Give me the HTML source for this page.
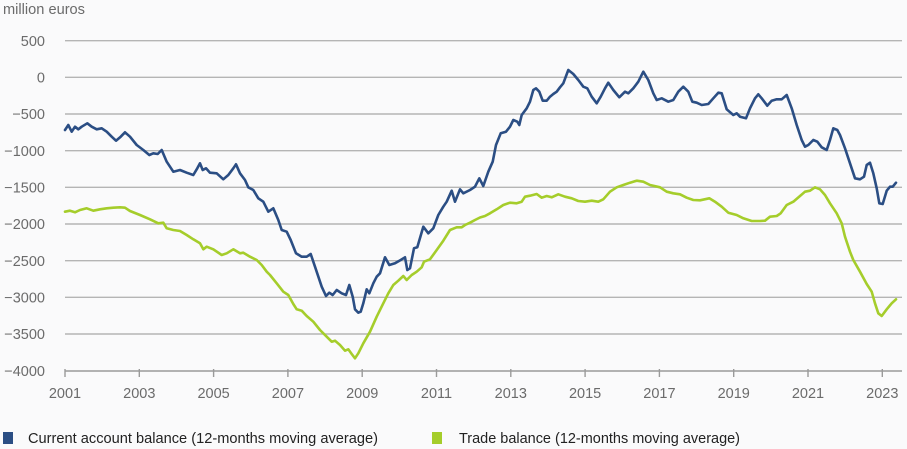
<!DOCTYPE html>
<html>
<head>
<meta charset="utf-8">
<style>
html,body{margin:0;padding:0;background:#fafafb;}
svg{display:block;}
</style>
</head>
<body>
<svg width="907" height="449" viewBox="0 0 907 449" xmlns="http://www.w3.org/2000/svg" font-family="Liberation Sans, Arial, sans-serif">
<rect width="907" height="449" fill="#fafafb"/>
<text x="3" y="14" font-size="14.5" fill="#6b6b6b" textLength="82" lengthAdjust="spacingAndGlyphs">million euros</text>
<g stroke="#b5b5b5" stroke-width="1.4">
<line x1="65" x2="902" y1="40.7" y2="40.7"/>
<line x1="65" x2="902" y1="77.3" y2="77.3"/>
<line x1="65" x2="902" y1="114" y2="114"/>
<line x1="65" x2="902" y1="150.7" y2="150.7"/>
<line x1="65" x2="902" y1="187.3" y2="187.3"/>
<line x1="65" x2="902" y1="224" y2="224"/>
<line x1="65" x2="902" y1="260.7" y2="260.7"/>
<line x1="65" x2="902" y1="297.3" y2="297.3"/>
<line x1="65" x2="902" y1="334" y2="334"/>
</g>
<line x1="65" x2="902" y1="371" y2="371" stroke="#9a9a9a" stroke-width="1.4"/>
<g stroke="#9a9a9a" stroke-width="1.4">
<line x1="65" x2="65" y1="369" y2="377"/>
<line x1="139.3" x2="139.3" y1="369" y2="377"/>
<line x1="213.6" x2="213.6" y1="369" y2="377"/>
<line x1="287.9" x2="287.9" y1="369" y2="377"/>
<line x1="362.2" x2="362.2" y1="369" y2="377"/>
<line x1="436.5" x2="436.5" y1="369" y2="377"/>
<line x1="510.8" x2="510.8" y1="369" y2="377"/>
<line x1="585.1" x2="585.1" y1="369" y2="377"/>
<line x1="659.4" x2="659.4" y1="369" y2="377"/>
<line x1="733.7" x2="733.7" y1="369" y2="377"/>
<line x1="808" x2="808" y1="369" y2="377"/>
<line x1="882.3" x2="882.3" y1="369" y2="377"/>
</g>
<g font-size="14.5" fill="#6b6b6b" text-anchor="end">
<text x="45" y="46">500</text>
<text x="45" y="82.5">0</text>
<text x="45" y="119">−500</text>
<text x="45" y="156">−1000</text>
<text x="45" y="192.5">−1500</text>
<text x="45" y="229">−2000</text>
<text x="45" y="266">−2500</text>
<text x="45" y="302.5">−3000</text>
<text x="45" y="339">−3500</text>
<text x="45" y="376">−4000</text>
</g>
<g font-size="14.5" fill="#6b6b6b" text-anchor="middle">
<text x="65" y="398">2001</text>
<text x="139.3" y="398">2003</text>
<text x="213.6" y="398">2005</text>
<text x="287.9" y="398">2007</text>
<text x="362.2" y="398">2009</text>
<text x="436.5" y="398">2011</text>
<text x="510.8" y="398">2013</text>
<text x="585.1" y="398">2015</text>
<text x="659.4" y="398">2017</text>
<text x="733.7" y="398">2019</text>
<text x="808" y="398">2021</text>
<text x="882.3" y="398">2023</text>
</g>
<polyline fill="none" stroke="#a5cd2b" stroke-width="2.6" stroke-linejoin="round" stroke-linecap="round" points="65,211.7 70,210.7 75,212.3 80,210 86.7,208.3 93.3,210.7 100,209.3 106.7,208.3 113.3,207.7 120,207.3 125,207.7 130,211 140,215 150,219.3 158.3,223.3 163.3,222.7 166.7,228.3 173.3,230 180,231 186.7,235 193.3,239.3 200,243.3 203.3,249.3 206.7,246.7 213.3,249.3 221.7,255 226.7,253.3 233.3,249.3 240,253.3 243.3,252.7 250,256.7 256.7,260 261.7,265 266.7,271.7 270,275 276.7,283.3 283.3,291.7 288.3,295 293.3,304 296.7,309.3 301.7,310.7 306.7,316 313.3,321.7 320,330 326.7,336.7 331.7,341.7 335,340.7 340,345 345,350.7 348.3,349.3 351.7,354 355,358.3 358.3,353.3 363.3,343.3 370,331.7 376.7,316.7 383.3,303.3 388.3,293.3 393.3,285 398.3,280.7 403.3,276 406.7,280 411.7,275 416.7,271.7 421.7,267.3 424,261.7 430,259.3 436.7,250 443.3,240.7 450,230 456.7,227.3 461.7,227.3 465,225 470,222.7 475,220 480,217.5 485,216 490,213.3 496.7,209.3 503.3,205 510,202.7 516.7,203.3 521.7,201.7 525,196.7 530,195.7 536.7,194 541.7,197.7 546.7,196 551.7,197.3 558.3,194.3 565,196.7 571.7,198.3 578.3,201 585,201.7 591.7,200.7 598.3,201.7 603.3,199.3 610,191.7 616.7,187.3 623.3,185 630,182.7 636.7,180.7 643.3,181.7 650,185 660,187.3 666.7,191.7 673.3,193.3 680,194.3 686.7,197.7 693.3,200 700,200.3 709.3,198.3 715,201.7 721.7,206.7 728.3,212.7 736.7,215 743.3,218.3 751.7,221 760,221 765,220.7 770,216.7 776.7,216 780.7,213.3 786.7,205 793.3,201.7 800,196 805,191.7 810,190.7 815,187.3 820,189.3 825,195 830,203.3 836.7,213.3 841.7,223.3 845,236.7 850,251.7 853.3,260 860,271.7 866.7,284 871.7,291.7 875,303.3 878.3,313.3 881.7,316 886.7,309.3 891.7,303.3 896,299.3"/>
<polyline fill="none" stroke="#2b4e84" stroke-width="2.6" stroke-linejoin="round" stroke-linecap="round" points="65,130 68.3,125 71.7,131.7 75,126.7 78.3,129.3 81.7,126.7 87.3,123.3 91.7,126.7 96.7,129.3 101.7,128.3 106.7,131.7 111.7,136.7 116,140.7 120.7,136.7 125,132.3 130,136.7 136.7,145 143.3,150 149.3,155 153.3,153.3 157.7,154 161.7,150 166.7,161.7 173.3,171.7 180,170 186.7,172.7 193.3,175 197.3,168.3 200,163.3 202.7,170 206,168.3 210,172.7 216.7,173.3 223.3,179.3 228.3,175 233.3,168.3 236,164.3 240,173.3 245,180 248.3,187.3 253.3,190 258.3,198.3 263.3,201.7 268.3,211.7 273.3,208.3 278.3,220 281.7,230 286.7,231.7 290.7,240 296,253.3 301.7,256.7 306.7,256.7 310.7,254 315,266.7 321.7,286.7 326,296 329.3,292.7 332.7,295 336.7,290 341.7,293.3 346,295 349.3,285 352.7,296.7 355,309.3 358.3,312.7 360.7,311.7 363.3,303.3 366.7,289.3 369.3,293.3 373.3,283.3 376.7,276.7 380,273.3 385,257.3 389.3,265 395,263.3 400.7,260 405,257.3 407.3,270 410,268.3 414,248.3 417.3,247.3 423.3,226.7 428.3,233.3 433.3,228.3 438.3,215 443.3,206.7 446.7,201.7 451.7,190.7 455,201.7 460,189.3 463.3,193.3 470,190 475,186.7 479.3,178.3 483.3,186 488.3,171.7 492.7,161.7 496,145 500.7,133.3 506,131.7 510,126.7 513.3,120 517.3,121.7 519.3,125 521.7,115 526.7,108.3 530,101.7 533.3,90 536,88.3 539.3,91.7 542.7,100.7 546.7,100.7 550,96.7 553.3,94 556.7,91.7 560,87.3 563.3,83.3 568.3,70 573.3,74 578.3,80 583.3,86.7 587.3,88.3 591.7,96.7 596.7,103.3 600.7,96.7 605,88.3 608.3,82.7 613.3,90 619.3,97.3 625,91.7 628.3,93.3 633.3,88.3 638.3,81.7 643.3,71.7 648.3,80 653.3,93.3 656.7,100 661.7,98.3 668.3,101.7 673.3,100 678.3,91.7 683.3,86.7 688.3,91.7 692.3,101.7 696.7,102.7 701.7,105 708.3,104 713.3,98.3 718.3,92.7 721.7,93.3 726.7,109.3 733.3,115 736.7,113.3 740,116.7 746,118.3 750,108.3 755,98.3 758.3,94.3 761.7,98.3 767.3,105.7 771.7,100.7 776.7,99.3 781.7,99.3 786.7,95 791.7,108.3 796.7,125 801.7,140 805,146.7 808.3,145 813.3,140 817.3,141.7 821.7,147.3 826.7,150 830,140 833.3,128.3 837.3,130 840,135 845,148.3 850,163.3 855,178.3 860,179.3 864,176.7 866.7,165 870,162.7 873.3,173.3 876.7,188.3 879.3,203.3 882.7,204 886.7,190.7 890,186.7 892.7,186.7 896,182.7"/>
<rect x="3" y="432" width="10" height="12" fill="#2b4e84"/>
<text x="28" y="443" font-size="14.5" fill="#222" textLength="350" lengthAdjust="spacingAndGlyphs">Current account balance (12-months moving average)</text>
<rect x="432" y="432" width="10" height="12" fill="#a5cd2b"/>
<text x="459" y="443" font-size="14.5" fill="#222" textLength="281" lengthAdjust="spacingAndGlyphs">Trade balance (12-months moving average)</text>
</svg>
</body>
</html>
